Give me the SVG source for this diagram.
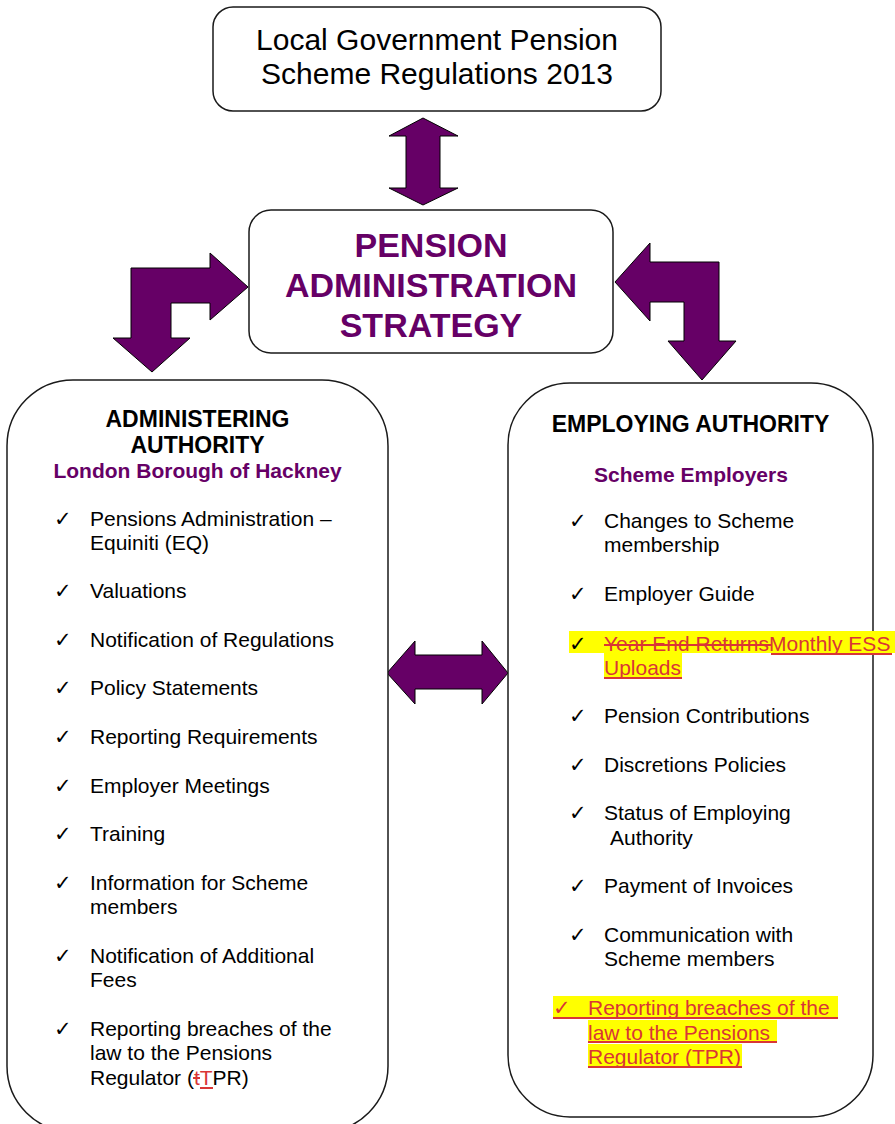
<svg xmlns="http://www.w3.org/2000/svg" width="895" height="1124" viewBox="0 0 895 1124">
<defs>
<style>
.box{fill:#fff;stroke:#1a1a1a;stroke-width:1.5}
.arr{fill:#660066;stroke:#000;stroke-width:1}
.t{font-family:"Liberation Sans",Arial,sans-serif;font-size:21px;fill:#000}
.h{font-family:"Liberation Sans",Arial,sans-serif;font-size:23px;font-weight:bold;fill:#000;text-anchor:middle}
.s{font-family:"Liberation Sans",Arial,sans-serif;font-size:21px;font-weight:bold;fill:#660066;text-anchor:middle}
.ck{font-family:"DejaVu Sans",sans-serif;font-size:21px;fill:#000}
.red{fill:#d93636}
.hl{fill:#ffff00}
.ln{stroke:#d93636;stroke-width:2}
</style>
</defs>
<g id="connectors">
<polygon class="arr" points="423,118 458,136 440,136 440,188 458,188 423,205 389,188 406,188 406,136 389,136"/>
<polygon class="arr" points="131,268 210,268 210,253 248,287 210,320 210,303 171,303 171,338 190,338 152,372 113,338 131,338"/>
<polygon class="arr" points="615,282 650,243 650,262 719,262 719,341 736,341 702,380 668,341 684,341 684,302 650,302 650,321"/>
<polygon class="arr" points="387,673 415,641 415,655 482,655 482,641 508,673 482,704 482,689 415,689 415,704"/>
</g>
<g id="regulations">
<rect class="box" x="213" y="7" width="448" height="104" rx="20"/>
<text class="t" style="font-size:30px" text-anchor="middle" x="437" y="50">Local Government Pension</text>
<text class="t" style="font-size:30px" text-anchor="middle" x="437" y="84">Scheme Regulations 2013</text>
</g>
<g id="strategy">
<rect class="box" x="249" y="210" width="364" height="143" rx="22"/>
<text class="s" style="font-size:34px" x="431" y="257">PENSION</text>
<text class="s" style="font-size:34px" x="431" y="297">ADMINISTRATION</text>
<text class="s" style="font-size:34px" x="431" y="337">STRATEGY</text>
</g>
<g id="administering">
<rect class="box" x="7" y="380" width="381" height="752" rx="66"/>
<text class="h" x="197.5" y="427">ADMINISTERING</text>
<text class="h" x="197.5" y="453">AUTHORITY</text>
<text class="s" x="197.5" y="478">London Borough of Hackney</text>
<text class="ck" x="54" y="526">✓</text><text class="t" x="90" y="526">Pensions Administration –</text>
<text class="t" x="90" y="550">Equiniti (EQ)</text>
<text class="ck" x="54" y="598">✓</text><text class="t" x="90" y="598">Valuations</text>
<text class="ck" x="54" y="647">✓</text><text class="t" x="90" y="647">Notification of Regulations</text>
<text class="ck" x="54" y="695">✓</text><text class="t" x="90" y="695">Policy Statements</text>
<text class="ck" x="54" y="744">✓</text><text class="t" x="90" y="744">Reporting Requirements</text>
<text class="ck" x="54" y="793">✓</text><text class="t" x="90" y="793">Employer Meetings</text>
<text class="ck" x="54" y="841">✓</text><text class="t" x="90" y="841">Training</text>
<text class="ck" x="54" y="890">✓</text><text class="t" x="90" y="890">Information for Scheme</text>
<text class="t" x="90" y="914">members</text>
<text class="ck" x="54" y="963">✓</text><text class="t" x="90" y="963">Notification of Additional</text>
<text class="t" x="90" y="987">Fees</text>
<text class="ck" x="54" y="1036">✓</text><text class="t" x="90" y="1036">Reporting breaches of the</text>
<text class="t" x="90" y="1060">law to the Pensions</text>
<text class="t" x="90" y="1085">Regulator (<tspan class="red">t</tspan><tspan class="red">T</tspan>PR)</text>
<line class="ln" x1="193" y1="1078" x2="200" y2="1078" stroke-width="1.5"/>
<line class="ln" x1="200" y1="1088" x2="213" y2="1088"/>
</g>
<g id="employing">
<rect class="box" x="508" y="383" width="365" height="734" rx="62"/>
<text class="h" x="690.5" y="432">EMPLOYING AUTHORITY</text>
<text class="s" x="691" y="482">Scheme Employers</text>
<text class="ck" x="569" y="528">✓</text><text class="t" x="604" y="528">Changes to Scheme</text>
<text class="t" x="604" y="552">membership</text>
<text class="ck" x="569" y="601">✓</text><text class="t" x="604" y="601">Employer Guide</text>
<rect class="hl" x="569" y="631" width="326" height="22"/>
<rect class="hl" x="604" y="653" width="78" height="26"/>
<text class="ck" x="569" y="651">✓</text>
<text class="t" x="604" y="651"><tspan class="red">Year End Returns</tspan><tspan class="red">Monthly ESS</tspan></text>
<text class="t red" x="604" y="675">Uploads</text>
<line class="ln" x1="604" y1="645" x2="771" y2="645"/>
<line class="ln" x1="771" y1="654" x2="892" y2="654"/>
<line class="ln" x1="604" y1="678" x2="682" y2="678"/>
<text class="ck" x="569" y="723">✓</text><text class="t" x="604" y="723">Pension Contributions</text>
<text class="ck" x="569" y="772">✓</text><text class="t" x="604" y="772">Discretions Policies</text>
<text class="ck" x="569" y="820">✓</text><text class="t" x="604" y="820">Status of Employing</text>
<text class="t" x="610" y="845">Authority</text>
<text class="ck" x="569" y="893">✓</text><text class="t" x="604" y="893">Payment of Invoices</text>
<text class="ck" x="569" y="942">✓</text><text class="t" x="604" y="942">Communication with</text>
<text class="t" x="604" y="966">Scheme members</text>
<rect class="hl" x="553" y="996" width="285" height="23"/>
<rect class="hl" x="588" y="1020" width="189" height="23"/>
<rect class="hl" x="588" y="1044" width="154" height="23"/>
<text class="ck red" x="553" y="1015">✓</text>
<text class="t red" x="588" y="1015">Reporting breaches of the</text>
<text class="t red" x="588" y="1040">law to the Pensions</text>
<text class="t red" x="588" y="1064">Regulator (TPR)</text>
<line class="ln" x1="553" y1="1018" x2="838" y2="1018"/>
<line class="ln" x1="588" y1="1042" x2="777" y2="1042"/>
<line class="ln" x1="588" y1="1067" x2="742" y2="1067"/>
</g>
</svg>
